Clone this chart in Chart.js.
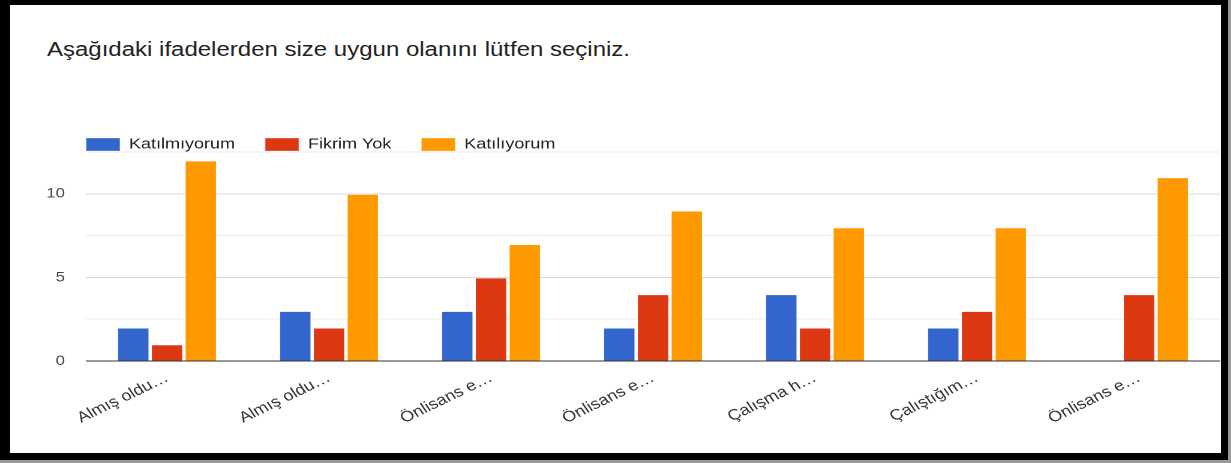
<!DOCTYPE html>
<html>
<head>
<meta charset="utf-8">
<script src="https://cdn.jsdelivr.net/npm/chart.js@4.4.1/dist/chart.umd.min.js"></script>
<style>
  html, body { margin: 0; padding: 0; width: 1231px; height: 463px; overflow: hidden; background: #9a9a9a; }
  #frame { position: absolute; left: 0; top: 0; width: 1228px; height: 460px; background: #000; }
  #sheet { position: absolute; left: 10px; top: 5px; width: 1211px; height: 448px; background: #fff; }
  /* the source screenshot is stretched ~1.2x horizontally, so the chart is too */
  #title { position: absolute; left: 47px; top: 37px; font: 20px "Liberation Sans", Arial, sans-serif; line-height: 24px;
           color: #222; white-space: nowrap; transform: scaleX(1.2); transform-origin: 0 0; }
  #wrap { position: absolute; left: 0; top: 0; width: 1026px; height: 463px; transform: scaleX(1.2); transform-origin: 0 0; }
</style>
</head>
<body>
<div id="frame"></div>
<div id="sheet"></div>
<div id="title">Aşağıdaki ifadelerden size uygun olanını lütfen seçiniz.</div>
<div id="wrap"><canvas id="chart"></canvas></div>
<script>
const categories = ['Almış oldu…', 'Almış oldu…', 'Önlisans e…', 'Önlisans e…', 'Çalışma h…', 'Çalıştığım…', 'Önlisans e…'];
const seriesNames = ['Katılmıyorum', 'Fikrim Yok', 'Katılıyorum'];
const katilmiyorum = [2, 3, 3, 2, 4, 2, 0];
const fikrimYok = [1, 2, 5, 4, 2, 3, 4];
const katiliyorum = [12, 10, 7, 9, 8, 8, 11];
const colors = ['#3366cc', '#dc3912', '#ff9900'];

const font = "'Liberation Sans', Arial, sans-serif";

// y tick labels hang left of the (narrow) axis box, so don't clip them to it
const yLabelRoom = {
    id: 'yLabelRoom',
    afterLayout(chart) {
        chart.scales.y.left = 0;
    }
};

new Chart(document.getElementById('chart'), {
    type: 'bar',
    data: {
        labels: categories,
        datasets: [katilmiyorum, fikrimYok, katiliyorum].map((d, i) => ({
            label: seriesNames[i],
            data: d,
            backgroundColor: colors[i],
            borderColor: 'rgba(255,255,255,0.35)',
            borderWidth: 1,
            categoryPercentage: 0.625,
            barPercentage: 0.97,
        }))
    },
    options: {
        responsive: true,
        maintainAspectRatio: false,
        animation: false,
        devicePixelRatio: 2,
        layout: { padding: { left: 46.7, right: 9.3, top: 112, bottom: 0 } },
        plugins: {
            tooltip: { enabled: false },
            legend: {
                position: 'top',
                align: 'start',
                maxHeight: 40,
                labels: {
                    boxWidth: 28.3,
                    boxHeight: 13,
                    padding: 25,
                    color: '#222',
                    font: { family: font, size: 15 },
                },
            },
        },
        scales: {
            x: {
                grid: { display: false, drawTicks: false },
                border: { display: false },
                ticks: {
                    color: '#333',
                    font: { family: font, size: 15 },
                    minRotation: 30,
                    maxRotation: 30,
                    autoSkip: false,
                    padding: 8,
                },
                afterFit: scale => { scale.height = 102; },
            },
            y: {
                min: 0,
                max: 12.5,
                border: { display: false },
                grid: {
                    drawTicks: false,
                    color: ctx => ctx.tick.value === 0 ? '#333' : (ctx.tick.value % 5 === 0 ? '#d6d6d6' : '#ebebeb'),
                },
                ticks: {
                    stepSize: 2.5,
                    padding: 17.5,
                    color: '#444',
                    font: { family: font, size: 14 },
                    callback: v => v % 5 === 0 ? v : '',
                },
                afterFit: scale => { scale.width = 25; },
            }
        }
    },
    plugins: [yLabelRoom]
});
</script>
</body>
</html>
